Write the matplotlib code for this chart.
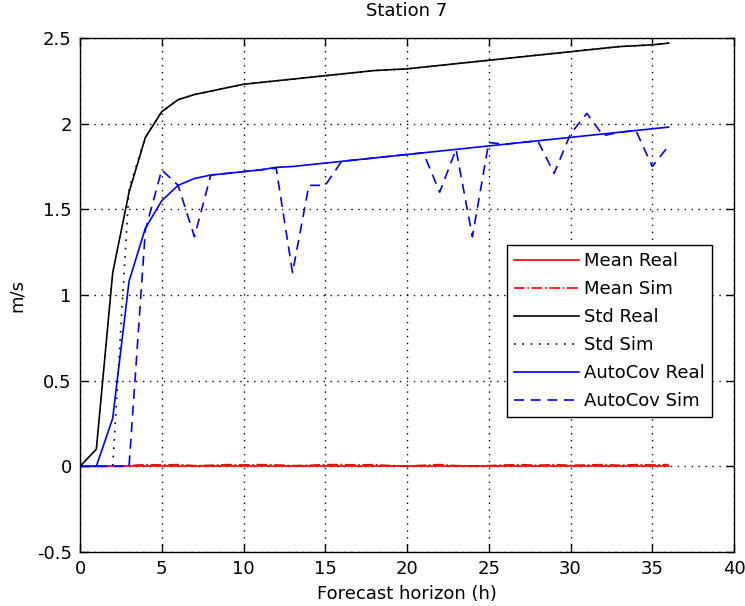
import matplotlib
matplotlib.use("Agg")
import matplotlib.pyplot as plt
import numpy as np

plt.rcParams['font.family'] = ['DejaVu Sans']

hours = np.arange(0, 37)

mean_real = [0.0] * 37
mean_sim = [0, 0, 0, 0.004, 0.01, 0.008, 0.01, 0.004, 0.006, 0.01, 0.008, 0.01,
            0.008, 0.004, 0.006, 0.01, 0.01, 0.008, 0.01, 0.004, 0.002, 0.006,
            0.01, 0.004, 0.002, 0.004, 0.008, 0.01, 0.006, 0.01, 0.006, 0.008,
            0.01, 0.006, 0.01, 0.008, 0.01]
std_real = [0, 0.10, 1.13, 1.60, 1.92, 2.07, 2.14, 2.17, 2.19, 2.21, 2.23, 2.24,
            2.25, 2.26, 2.27, 2.28, 2.29, 2.30, 2.31, 2.315, 2.32, 2.33, 2.34,
            2.35, 2.36, 2.37, 2.38, 2.39, 2.40, 2.41, 2.42, 2.43, 2.44, 2.45,
            2.455, 2.46, 2.47]
std_sim = [0, 0, 0, 1.62, 1.92, 2.07, 2.14, 2.17, 2.19, 2.21, 2.23, 2.24,
           2.25, 2.26, 2.27, 2.28, 2.29, 2.30, 2.31, 2.315, 2.32, 2.33, 2.34,
           2.35, 2.36, 2.37, 2.38, 2.39, 2.40, 2.41, 2.42, 2.43, 2.44, 2.45,
           2.455, 2.46, 2.47]
autocov_real = [0, 0, 0.28, 1.08, 1.39, 1.55, 1.64, 1.68, 1.70, 1.71, 1.72, 1.73,
                1.745, 1.75, 1.76, 1.77, 1.78, 1.79, 1.80, 1.81, 1.82, 1.83, 1.84,
                1.85, 1.86, 1.87, 1.88, 1.89, 1.90, 1.91, 1.92, 1.93, 1.94, 1.95,
                1.96, 1.97, 1.98]
autocov_sim = [0, 0, 0, 0, 1.38, 1.73, 1.64, 1.34, 1.70, 1.71, 1.72, 1.73,
               1.74, 1.13, 1.64, 1.64, 1.78, 1.79, 1.80, 1.81, 1.82, 1.83, 1.60,
               1.85, 1.34, 1.89, 1.88, 1.89, 1.90, 1.71, 1.94, 2.06, 1.93, 1.95,
               1.96, 1.75, 1.87]

xticks = [0, 5, 10, 15, 20, 25, 30, 35, 40]
yticks = [-0.5, 0, 0.5, 1, 1.5, 2, 2.5]
ytick_labels = ["-0.5", "0", "0.5", "1", "1.5", "2", "2.5"]

fig = plt.figure(figsize=(7.45, 6.06), dpi=100)
ax = fig.add_axes([80 / 745, 54 / 606, 654 / 745, 514 / 606])

lw = 1.2
ax.plot(hours, mean_real, color='r', lw=lw, label='Mean Real')
ax.plot(hours, mean_sim, color='r', lw=lw, linestyle='-.', label='Mean Sim')
ax.plot(hours, std_real, color='k', lw=lw, label='Std Real')
ax.plot(hours, std_sim, color='k', lw=lw, linestyle=(0, (1, 4)), label='Std Sim')
ax.plot(hours, autocov_real, color='b', lw=lw, label='AutoCov Real')
ax.plot(hours, autocov_sim, color='b', lw=lw, linestyle=(0, (6, 4)), label='AutoCov Sim')

ax.set_xlim(0, 40)
ax.set_ylim(-0.5, 2.5)
ax.set_xticks(xticks)
ax.set_xticklabels([str(t) for t in xticks])
ax.set_yticks(yticks)
ax.set_yticklabels(ytick_labels)
ax.tick_params(direction='in', length=6, width=1, top=True, right=True,
               labelsize=13, pad=6)
ax.grid(True, color='k', linestyle=(0, (1, 4)), lw=1)
for s in ax.spines.values():
    s.set_linewidth(1)

ax.set_title("Station 7", fontsize=13, pad=16)
ax.set_xlabel("Forecast horizon (h)", fontsize=13, labelpad=5)
ax.set_ylabel("m/s", fontsize=13, labelpad=8)

leg = ax.legend(loc='upper left', bbox_to_anchor=(0.653, 0.597), fontsize=13,
                handlelength=3.6, handletextpad=0.25, labelspacing=0.55,
                borderpad=0.4, borderaxespad=0, fancybox=False,
                framealpha=1, edgecolor='k')
leg.get_frame().set_linewidth(1)

fig.savefig("out.png", dpi=100)
